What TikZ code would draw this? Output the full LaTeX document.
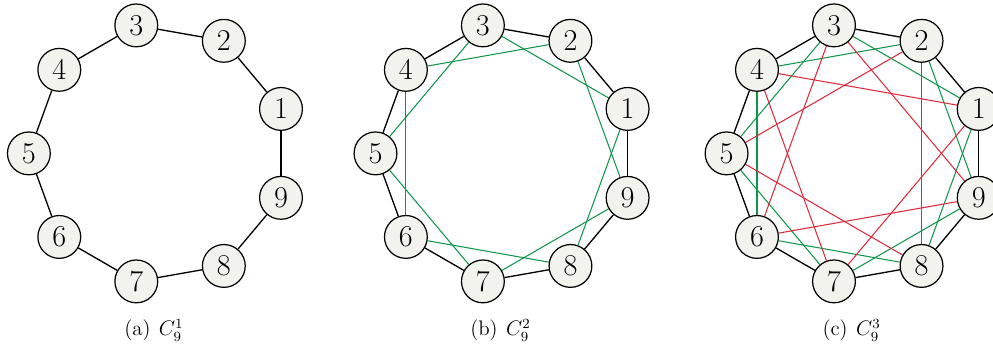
\documentclass[tikz,border=0pt]{standalone}
\usepackage{amsmath}
\usepackage{xcolor}
\usepackage{tikz}
\usetikzlibrary{backgrounds}
\definecolor{CircGreen}{HTML}{10964A}
\definecolor{CircRed}{HTML}{DC2B3C}
\definecolor{CircFill}{HTML}{F3F3EE}
\tikzset{
  vertex/.style={circle,draw,line width=0.7pt,fill=CircFill,minimum size=0.86cm,inner sep=0pt,font=\LARGE},
  hopone/.style={black,line width=0.75pt},
  hoptwo/.style={CircGreen,line width=0.6pt},
  hopthree/.style={CircRed,line width=0.6pt},
  subcap/.style={font=\large}
}
\begin{document}
\begin{tikzpicture}[x=1cm,y=1cm]
    \useasboundingbox (0,0) rectangle (19.94,7.03);
    \foreach \g/\cx in {a/3.19,b/10.15,c/17.20}{
      \foreach \k in {1,...,9}
        \node[vertex] (\g\k) at ({\cx+2.61*cos(20+40*(\k-1))},{3.95+2.61*sin(20+40*(\k-1))}) {\k};
    }
    \begin{scope}[on background layer]
      \foreach \k in {1,...,9}{
        \pgfmathtruncatemacro{\kp}{mod(\k,9)+1}
        \draw[hopone] (a\k)--(a\kp);
        \draw[hopone] (b\k)--(b\kp);
        \draw[hopone] (c\k)--(c\kp);
      }
      \foreach \k in {1,...,9}{
        \pgfmathtruncatemacro{\kq}{mod(\k+1,9)+1}
        \draw[hoptwo] (b\k)--(b\kq);
        \draw[hoptwo] (c\k)--(c\kq);
      }
      \foreach \k in {1,...,9}{
        \pgfmathtruncatemacro{\kr}{mod(\k+2,9)+1}
        \draw[hopthree] (c\k)--(c\kr);
      }
    \end{scope}
    \node[subcap] (capa) at (3.09,0.4) {(a)\hspace{0.4em}$C_9^1$};
    \node[subcap] (capb) at (10.05,0.4) {(b)\hspace{0.4em}$C_9^2$};
    \node[subcap] (capc) at (17.10,0.4) {(c)\hspace{0.4em}$C_9^3$};
  \end{tikzpicture}
\end{document}
